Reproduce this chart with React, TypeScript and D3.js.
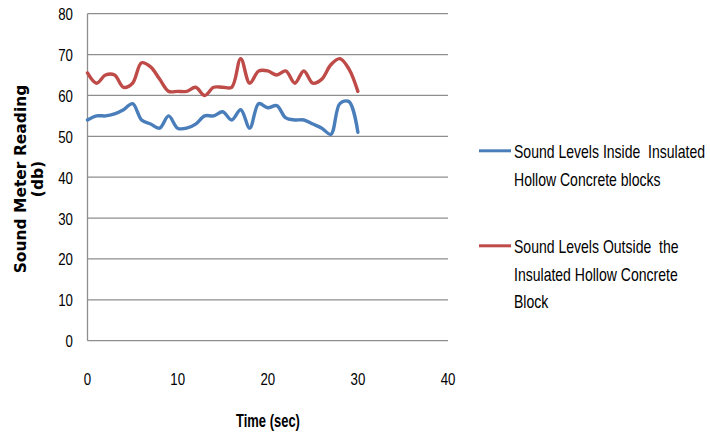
import React from "react";
import * as d3 from "d3";

const times = d3.range(0, 31);
const insideLevels = [54, 55, 55, 55.5, 56.5, 58, 54, 53, 52, 55, 52, 52, 53, 55, 55, 56, 54, 56.5, 52, 58, 57, 57.5, 54.5, 54, 54, 53, 52, 50.5, 58, 58.5, 51];
const outsideLevels = [65.5, 63, 65, 65, 62, 63, 68, 67, 64, 61, 61, 61, 62, 60, 62, 62, 62, 69, 63, 66, 66, 65, 66, 63, 66, 63, 64, 67.5, 69, 66.5, 61];
const yTicks = [0, 10, 20, 30, 40, 50, 60, 70, 80];
const xTicks = [0, 10, 20, 30, 40];

const series = [
  { name: ["Sound Levels Inside  Insulated", "Hollow Concrete blocks"], values: insideLevels, color: "#4A7EBB" },
  { name: ["Sound Levels Outside  the", "Insulated Hollow Concrete", "Block"], values: outsideLevels, color: "#BE4B48" },
];

const FONT = "'Liberation Sans', Arial, sans-serif";
const SX = 0.78;

export default function App() {
  const x = d3.scaleLinear().domain([0, 40]).range([87.5, 448]);
  const y = d3.scaleLinear().domain([0, 80]).range([340.7, 13.7]);
  const line = d3
    .line<number>()
    .x((_, i) => x(times[i]))
    .y((d) => y(d))
    .curve(d3.curveCatmullRom.alpha(0.5));

  const legendBase = [158.3, 253.3];

  return (
    <svg width={710} height={435} style={{ position: "absolute", left: 0, top: 0, background: "#fff" }}>
      {yTicks.map((t) => (
        <g key={t}>
          <line x1={x(0)} x2={x(40)} y1={y(t)} y2={y(t)} stroke="#8e8e8e" strokeWidth={1.3} />
          <g transform={`translate(73,${y(t) + 6.5}) scale(${SX},1)`}>
            <text x={0} y={0} textAnchor="end" fontFamily={FONT} fontSize={17} fill="#000">
              {t}
            </text>
          </g>
        </g>
      ))}
      <line x1={x(0)} x2={x(0)} y1={y(80)} y2={y(0)} stroke="#8e8e8e" strokeWidth={1.3} />
      {xTicks.map((t) => (
        <g key={t} transform={`translate(${x(t)},384.5) scale(${SX},1)`}>
          <text x={0} y={0} textAnchor="middle" fontFamily={FONT} fontSize={17} fill="#000">
            {t}
          </text>
        </g>
      ))}
      {series.map((s) => (
        <path key={s.color} d={line(s.values) || ""} fill="none" stroke={s.color} strokeWidth={3.4} strokeLinejoin="round" strokeLinecap="round" />
      ))}
      <g transform={`translate(268,427) scale(0.72,1)`}>
        <text x={0} y={0} textAnchor="middle" fontFamily={FONT} fontSize={18} fontWeight="bold">
          Time (sec)
        </text>
      </g>
      <g transform="translate(26,179) rotate(-90)">
        <text x={0} y={0} textAnchor="middle" fontFamily="'DejaVu Sans', Verdana, sans-serif" fontSize={15.5} fontWeight="bold">
          Sound Meter Reading
        </text>
        <text x={0} y={17} textAnchor="middle" fontFamily="'DejaVu Sans', Verdana, sans-serif" fontSize={15.5} fontWeight="bold">
          (db)
        </text>
      </g>
      {series.map((s, si) => (
        <g key={s.color}>
          <line x1={479} x2={511} y1={legendBase[si] - 7.5} y2={legendBase[si] - 7.5} stroke={s.color} strokeWidth={3} />
          {s.name.map((n, li) => (
            <g key={li} transform={`translate(514,${legendBase[si] + li * 27.3}) scale(${SX},1)`}>
              <text x={0} y={0} fontFamily={FONT} fontSize={18} fill="#000" style={{ whiteSpace: "pre" }}>
                {n}
              </text>
            </g>
          ))}
        </g>
      ))}
    </svg>
  );
}
